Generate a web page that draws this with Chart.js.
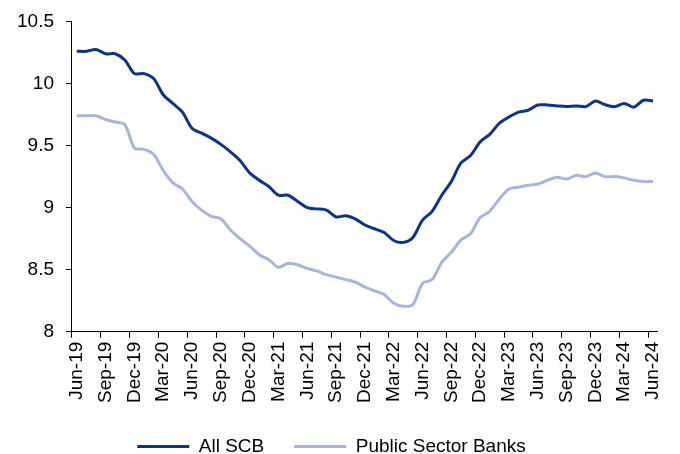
<!DOCTYPE html>
<html lang="en">
  <head>
    <meta charset="UTF-8" />
    <title>Lending rates</title>
    <style>
      html,
      body {
        margin: 0;
        padding: 0;
        background: #fff;
      }
      .chart-box {
        width: 680px;
        height: 454px;
      }
    </style>
  </head>
  <body>
    <div class="chart-box"><canvas id="rateChart"></canvas></div>

    <script src="https://cdn.jsdelivr.net/npm/chart.js@4/dist/chart.umd.min.js"></script>
    <script>
      // months, Jun-19 .. Jun-24
      const months = [
        "Jun-19", "Jul-19", "Aug-19", "Sep-19", "Oct-19", "Nov-19", "Dec-19", "Jan-20", "Feb-20", "Mar-20", "Apr-20", "May-20",
        "Jun-20", "Jul-20", "Aug-20", "Sep-20", "Oct-20", "Nov-20", "Dec-20", "Jan-21", "Feb-21", "Mar-21", "Apr-21", "May-21",
        "Jun-21", "Jul-21", "Aug-21", "Sep-21", "Oct-21", "Nov-21", "Dec-21", "Jan-22", "Feb-22", "Mar-22", "Apr-22", "May-22",
        "Jun-22", "Jul-22", "Aug-22", "Sep-22", "Oct-22", "Nov-22", "Dec-22", "Jan-23", "Feb-23", "Mar-23", "Apr-23", "May-23",
        "Jun-23", "Jul-23", "Aug-23", "Sep-23", "Oct-23", "Nov-23", "Dec-23", "Jan-24", "Feb-24", "Mar-24", "Apr-24", "May-24",
        "Jun-24",
      ];

      // All scheduled commercial banks
      const allScb = [
        10.26, 10.26, 10.275, 10.24, 10.24, 10.19, 10.08, 10.08, 10.04, 9.91, 9.84, 9.77,
        9.64, 9.6, 9.56, 9.51, 9.45, 9.38, 9.28, 9.22, 9.17, 9.1, 9.1, 9.05,
        9.0, 8.99, 8.98, 8.925, 8.935, 8.91, 8.86, 8.83, 8.8, 8.735, 8.72, 8.76,
        8.9, 8.97, 9.1, 9.21, 9.36, 9.42, 9.53, 9.59, 9.68, 9.73, 9.77, 9.785,
        9.827, 9.827, 9.82, 9.815, 9.82, 9.814, 9.86, 9.83, 9.814, 9.84, 9.81, 9.865,
        9.86,
      ];

      // public sector banks
      const psb = [
        9.74, 9.74, 9.74, 9.71, 9.69, 9.67, 9.48, 9.47, 9.43, 9.3, 9.2, 9.15,
        9.05, 8.98, 8.93, 8.91, 8.82, 8.75, 8.69, 8.62, 8.58, 8.52, 8.55, 8.54,
        8.51, 8.49, 8.46, 8.44, 8.42, 8.4, 8.36, 8.33, 8.3, 8.23, 8.205, 8.22,
        8.39, 8.42, 8.56, 8.64, 8.74, 8.79, 8.92, 8.97, 9.07, 9.15, 9.165, 9.18,
        9.19, 9.22, 9.245, 9.23, 9.26, 9.25, 9.28, 9.25, 9.25, 9.24, 9.22, 9.21,
        9.21,
      ];

      const yTicks = [8, 8.5, 9, 9.5, 10, 10.5];

      const font = { family: "'Liberation Sans', Arial, sans-serif", size: 19 };

      new Chart(document.getElementById("rateChart"), {
        type: "line",
        data: {
          labels: months,
          datasets: [
            {
              label: "All SCB",
              data: allScb,
              borderColor: "#0c3391",
              backgroundColor: "#0c3391",
              borderWidth: 3,
              pointRadius: 0,
              tension: 0.3,
            },
            {
              label: "Public Sector Banks",
              data: psb,
              borderColor: "#a7b5de",
              backgroundColor: "#a7b5de",
              borderWidth: 3,
              pointRadius: 0,
              tension: 0.3,
            },
          ],
        },
        options: {
          responsive: true,
          maintainAspectRatio: false,
          animation: false,
          layout: {
            padding: { left: 5, right: 22, top: 0, bottom: -12 },
          },
          plugins: {
            tooltip: { enabled: false },
            legend: {
              position: "bottom",
              labels: {
                usePointStyle: true,
                pointStyle: "line",
                pointStyleWidth: 52,
                padding: 30,
                color: "#000",
                font: font,
              },
            },
          },
          scales: {
            x: {
              offset: true,
              border: { display: true, color: "#000", width: 1 },
              grid: {
                offset: true,
                drawOnChartArea: false,
                tickLength: 6,
                color: (ctx) => (ctx.index % 3 === 0 ? "#000" : "rgba(0,0,0,0)"),
              },
              ticks: {
                autoSkip: false,
                maxRotation: 90,
                minRotation: 90,
                padding: 4,
                color: "#000",
                font: font,
                callback: (v, i) => (i % 3 === 0 ? months[i] : ""),
              },
            },
            y: {
              min: yTicks[0],
              max: yTicks[yTicks.length - 1],
              border: { display: true, color: "#000", width: 1 },
              grid: {
                drawOnChartArea: false,
                tickLength: 6,
                color: "#000",
              },
              afterBuildTicks: (axis) => {
                axis.ticks = yTicks.map((v) => ({ value: v }));
              },
              ticks: {
                padding: 12,
                color: "#000",
                font: { ...font, lineHeight: 1 },
                callback: (v) => String(v),
              },
            },
          },
        },
      });
    </script>
  </body>
</html>
